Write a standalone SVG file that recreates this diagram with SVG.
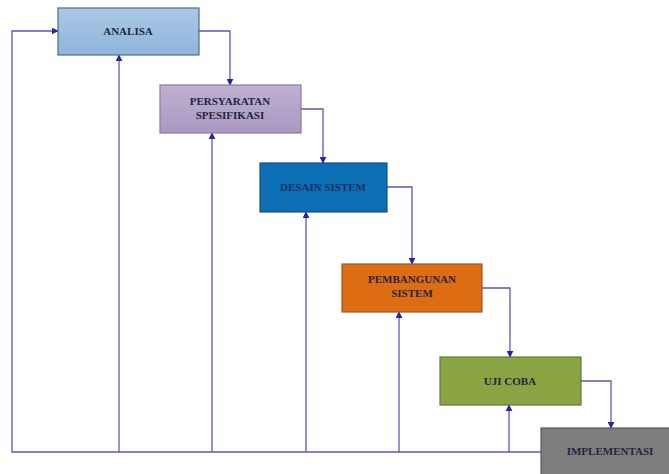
<svg xmlns="http://www.w3.org/2000/svg" width="669" height="474" viewBox="0 0 669 474">
<style>
.t{font-family:"Liberation Serif","DejaVu Serif",serif;font-weight:bold;font-size:11px;fill:#1e2640;text-anchor:middle}
.c{fill:none;stroke:#5a5ab4;stroke-width:1.3}
.b{stroke-width:1.2}
</style>
<defs>
<marker id="a" viewBox="0 0 10 10" refX="9" refY="5" markerWidth="7" markerHeight="7" markerUnits="userSpaceOnUse" orient="auto"><path d="M0,0L10,5L0,10Z" fill="#2626a0"/></marker>
<linearGradient id="g1" x1="0" y1="0" x2="0" y2="1"><stop offset="0" stop-color="#a9c8e6"/><stop offset="1" stop-color="#8fb4da"/></linearGradient>
<linearGradient id="g2" x1="0" y1="0" x2="0" y2="1"><stop offset="0" stop-color="#bfb0d2"/><stop offset="1" stop-color="#a898c0"/></linearGradient>
</defs>
<rect width="669" height="474" fill="#ffffff"/>
<g id="connectors">
<polyline class="c" points="199,31 230,31 230,85" marker-end="url(#a)"/>
<polyline class="c" points="301,109 323,109 323,163" marker-end="url(#a)"/>
<polyline class="c" points="387,187 412,187 412,264" marker-end="url(#a)"/>
<polyline class="c" points="482,288 510,288 510,357" marker-end="url(#a)"/>
<polyline class="c" points="581,381 611,381 611,428" marker-end="url(#a)"/>
<polyline class="c" points="541,452 12,452 12,31 58,31" marker-end="url(#a)"/>
<line class="c" x1="119" y1="452" x2="119" y2="55" marker-end="url(#a)"/>
<line class="c" x1="212" y1="452" x2="212" y2="133" marker-end="url(#a)"/>
<line class="c" x1="306" y1="452" x2="306" y2="212" marker-end="url(#a)"/>
<line class="c" x1="399" y1="452" x2="399" y2="312" marker-end="url(#a)"/>
<line class="c" x1="509" y1="452" x2="509" y2="405" marker-end="url(#a)"/>
</g>
<g id="analisa">
<rect x="58" y="8" width="141" height="47" fill="url(#g1)" stroke="#4e6c8c" class="b"/>
<text class="t" x="128" y="35">ANALISA</text>
</g>
<g id="persyaratan">
<rect x="160" y="85" width="141" height="48" fill="url(#g2)" stroke="#8a7d9c" class="b"/>
<text class="t" x="230" y="105">PERSYARATAN</text>
<text class="t" x="230" y="119">SPESIFIKASI</text>
</g>
<g id="desain">
<rect x="260" y="163" width="127" height="49" fill="#0c6fb6" stroke="#1d4f7a" class="b"/>
<text class="t" x="323" y="191" style="fill:#1a2f60">DESAIN SISTEM</text>
</g>
<g id="pembangunan">
<rect x="342" y="264" width="140" height="48" fill="#dd6c12" stroke="#9a5a2a" class="b"/>
<text class="t" x="412" y="283">PEMBANGUNAN</text>
<text class="t" x="412" y="297">SISTEM</text>
</g>
<g id="ujicoba">
<rect x="440" y="357" width="141" height="48" fill="#8ba443" stroke="#65783a" class="b"/>
<text class="t" x="510" y="385">UJI COBA</text>
</g>
<g id="implementasi">
<rect x="541" y="428" width="130" height="48" fill="#7d7d7d" stroke="#5a5a5a" class="b"/>
<text class="t" x="610" y="455">IMPLEMENTASI</text>
</g>
</svg>
